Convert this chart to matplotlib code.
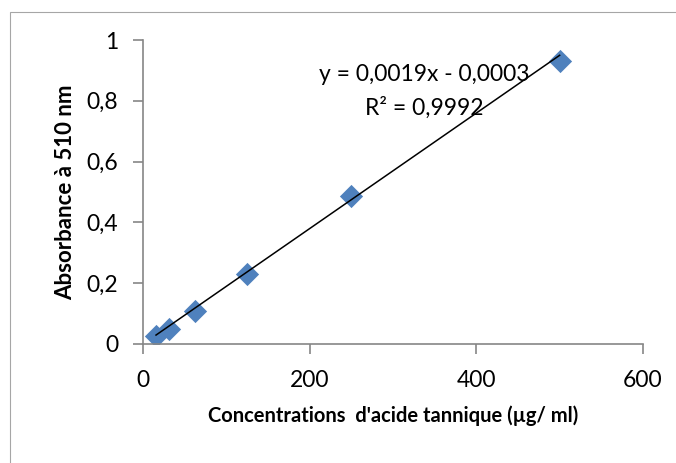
import matplotlib
matplotlib.use("Agg")
import matplotlib.pyplot as plt
import numpy as np
from matplotlib.patches import Rectangle

conc = [15.625, 31.25, 62.5, 125, 250, 500]
absorb = [0.027, 0.05, 0.108, 0.23, 0.488, 0.93]
slope = 0.0019
intercept = -0.0003
eq_text = "y = 0,0019x - 0,0003"
r2_text = "R² = 0,9992"
xticks = [0, 200, 400, 600]
yticks = [0, 0.2, 0.4, 0.6, 0.8, 1.0]
ytick_labels = ["0", "0,2", "0,4", "0,6", "0,8", "1"]

plt.rcParams['font.family'] = ['Lato', 'DejaVu Sans']

W, H = 676, 463
fig = plt.figure(figsize=(W/100, H/100), dpi=100)
fig.patches.append(Rectangle((10/W, -0.1), 1.2, (H-12)/H + 0.1, transform=fig.transFigure,
                             fill=False, edgecolor='#a6a6a6', linewidth=0.8))

ax = fig.add_axes([143/W, 1-344/H, 500/W, (344-40)/H])
ax.set_xlim(0, 600)
ax.set_ylim(0, 1)

ax.scatter(conc, absorb, marker='D', s=140, color='#4F81BD', zorder=2, linewidths=0)
xf = np.array([min(conc), max(conc)])
ax.plot(xf, slope*xf + intercept, color='black', linewidth=1.1, zorder=3)

for s in ['top', 'right']:
    ax.spines[s].set_visible(False)
for s in ['left', 'bottom']:
    ax.spines[s].set_color('#868686')
    ax.spines[s].set_linewidth(1.2)

ax.set_xticks(xticks)
ax.set_xticklabels([str(v) for v in xticks])
ax.set_yticks(yticks)
ax.set_yticklabels(ytick_labels)
ax.tick_params(axis='both', colors='#868686', labelcolor='black', labelsize=16.5, width=1.2)
ax.tick_params(axis='y', length=7, pad=11)
ax.tick_params(axis='x', length=7, pad=12)

ax.set_xlabel("Concentrations  d'acide tannique (µg/ ml)", fontsize=14.5, fontweight='bold', labelpad=10)
ax.set_ylabel("Absorbance à 510 nm", fontsize=16, fontweight='bold', labelpad=7)

ax.text(337, 0.885, eq_text, ha='center', va='center', fontsize=16.5)
ax.text(337, 0.776, r2_text, ha='center', va='center', fontsize=16.5)

fig.savefig("out.png", dpi=100)
